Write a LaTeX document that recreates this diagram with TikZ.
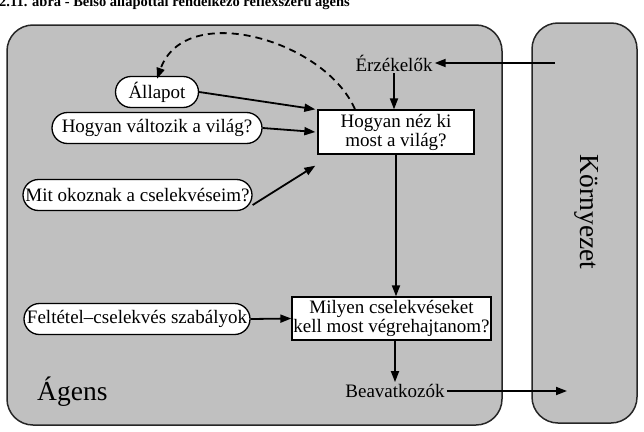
\documentclass[tikz,border=0pt]{standalone}
\usepackage{fontspec}
\setmainfont{Liberation Serif}
\usetikzlibrary{arrows.meta}
\definecolor{panelgray}{RGB}{192,192,192}
\begin{document}
\begin{tikzpicture}[x=1pt,y=-1pt,
  txt/.style={font=\fontsize{19}{19}\selectfont, inner sep=2pt},
  oval/.style={txt, draw, fill=white, rounded corners=15.5pt, minimum height=31pt, inner xsep=0pt, inner ysep=0pt, line width=1.3pt},
  sq/.style={txt, draw, fill=white, line width=1.3pt, align=center, inner sep=0pt},
  arr/.style={line width=1.8pt, -{Triangle[length=11pt,width=8pt]}},
  panel/.style={fill=panelgray, draw=black!85, line width=1.5pt, rounded corners=26pt},
  big/.style={font=\fontsize{27.5}{27.5}\selectfont, inner sep=0pt}]
\useasboundingbox (0,0) rectangle (644,431);
% caption (cut off at the top, as in the reference)
\node[font=\bfseries\fontsize{14.5}{15}\selectfont, anchor=base west, inner sep=0pt] (cap) at (-1,6) {2.11. ábra - Belső állapottal rendelkező reflexszerű ágens};
% panels
\draw[panel] (7,25) rectangle (502,425);
\draw[panel] (532,23) rectangle (637,423);
% nodes
\node[oval, minimum width=83pt] (st) at (157,92) {Állapot};
\node[oval, minimum width=210pt] (hv) at (157,128) {Hogyan változik a világ?};
\node[oval, minimum width=229pt] (mo) at (137.5,195) {Mit okoznak a cselekvéseim?};
\node[oval, minimum width=226pt] (ft) at (137,319) {Feltétel–cselekvés szabályok};
\node[sq, minimum width=156pt, minimum height=44pt] (hn) at (396,132) {Hogyan néz ki\\most a világ?};
\node[sq, minimum width=199pt, minimum height=43pt] (mc) at (391.5,318.5) {Milyen cselekvéseket\\kell most végrehajtanom?};
\node[txt] (er) at (394,63) {Érzékelők};
\node[txt] (be) at (395,391) {Beavatkozók};
\node[big, anchor=base west] (ag) at (37,400) {Ágens};
\node[big, rotate=-90] (kz) at (587,212) {Környezet};
\coordinate (ein) at (555,63);
\coordinate (eout) at (567,391);
% connectors
\draw[arr] (ein) -- (er.east);
\draw[arr] (er) -- (er |- hn.north);
\draw[arr] (hn.south) -- (hn.south |- mc.north);
\draw[arr] (mc.south -| be) -- (be.north);
\draw[arr] (be.east) -- (eout);
\draw[arr] (st.east) -- ([xshift=-2pt]hn.north west);
\draw[arr] (hv.east) -- ([xshift=-2pt]hn.west);
\draw[arr] ([yshift=-10pt]mo.east) -- ([xshift=-2pt,yshift=-11pt]hn.south west);
\draw[arr] (ft.east) -- (mc.west);
\draw[arr, dash pattern=on 7pt off 5pt] ([xshift=-41pt]hn.north) .. controls (325,40) and (185,0) .. ([yshift=-3pt]st.north);
\end{tikzpicture}
\end{document}
